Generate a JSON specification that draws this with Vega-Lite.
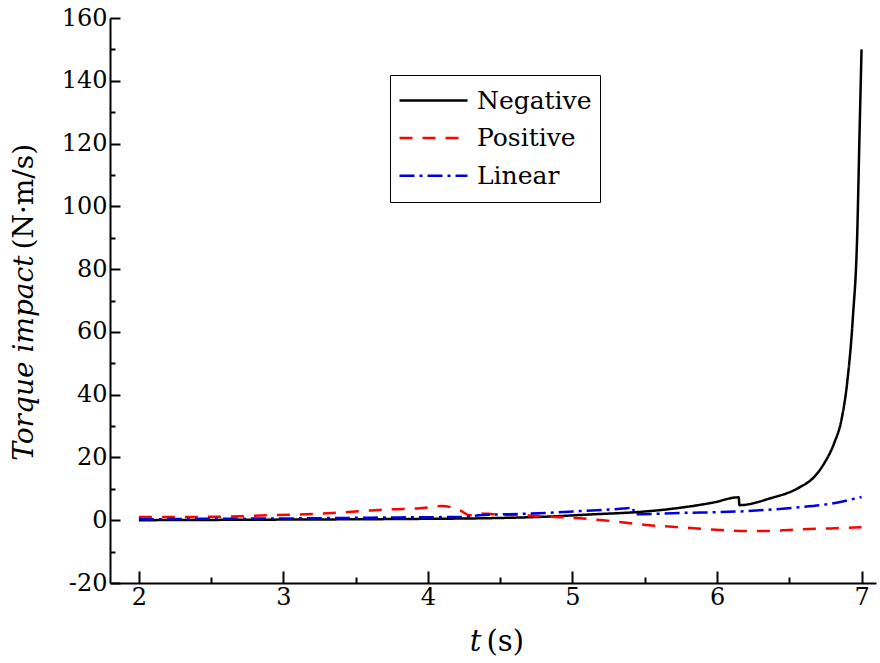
{
  "$schema": "https://vega.github.io/schema/vega-lite/v6.json",
  "width": 766,
  "height": 565,
  "autosize": {"type": "none"},
  "padding": {"left": 110, "top": 18, "right": 4, "bottom": 80},
  "background": "white",
  "config": {
    "view": {"stroke": null},
    "font": "DejaVu Serif",
    "axis": {
      "domainColor": "black",
      "domainWidth": 2,
      "tickColor": "black",
      "tickWidth": 2,
      "labelColor": "black",
      "labelFont": "DejaVu Serif",
      "labelFontSize": 24,
      "titleFont": "DejaVu Serif",
      "titleFontSize": 28,
      "titleFontWeight": "normal",
      "titleColor": "black",
      "grid": false
    },
    "legend": {"labelFont": "DejaVu Serif"}
  },
  "data": {
    "values": [
      {"series": "Negative", "t": 2.0, "v": 0.0},
      {"series": "Negative", "t": 2.2, "v": 0.05},
      {"series": "Negative", "t": 2.5, "v": 0.1},
      {"series": "Negative", "t": 3.0, "v": 0.2},
      {"series": "Negative", "t": 3.5, "v": 0.3},
      {"series": "Negative", "t": 4.0, "v": 0.45},
      {"series": "Negative", "t": 4.35, "v": 0.6},
      {"series": "Negative", "t": 4.8, "v": 1.1},
      {"series": "Negative", "t": 5.15, "v": 1.9},
      {"series": "Negative", "t": 5.45, "v": 2.6},
      {"series": "Negative", "t": 5.7, "v": 3.7},
      {"series": "Negative", "t": 5.97, "v": 5.6},
      {"series": "Negative", "t": 6.15, "v": 7.3},
      {"series": "Negative", "t": 6.155, "v": 4.8},
      {"series": "Negative", "t": 6.37, "v": 7.0},
      {"series": "Negative", "t": 6.56, "v": 10.2},
      {"series": "Negative", "t": 6.67, "v": 13.7},
      {"series": "Negative", "t": 6.74, "v": 18.0},
      {"series": "Negative", "t": 6.81, "v": 24.5},
      {"series": "Negative", "t": 6.86, "v": 31.8},
      {"series": "Negative", "t": 6.9, "v": 43.6},
      {"series": "Negative", "t": 6.94, "v": 64.6},
      {"series": "Negative", "t": 6.97, "v": 91.0},
      {"series": "Negative", "t": 6.986, "v": 123.0},
      {"series": "Negative", "t": 7.0, "v": 150.0},
      {"series": "Positive", "t": 2.0, "v": 1.0},
      {"series": "Positive", "t": 2.56, "v": 1.1},
      {"series": "Positive", "t": 2.77, "v": 1.4},
      {"series": "Positive", "t": 3.34, "v": 2.3},
      {"series": "Positive", "t": 3.57, "v": 3.0},
      {"series": "Positive", "t": 3.75, "v": 3.5},
      {"series": "Positive", "t": 3.94, "v": 3.8},
      {"series": "Positive", "t": 4.1, "v": 4.5},
      {"series": "Positive", "t": 4.22, "v": 3.2},
      {"series": "Positive", "t": 4.29, "v": 1.6},
      {"series": "Positive", "t": 4.35, "v": 2.2},
      {"series": "Positive", "t": 4.45, "v": 1.9},
      {"series": "Positive", "t": 4.7, "v": 1.5},
      {"series": "Positive", "t": 4.86, "v": 1.1},
      {"series": "Positive", "t": 5.05, "v": 0.6},
      {"series": "Positive", "t": 5.21, "v": 0.0},
      {"series": "Positive", "t": 5.37, "v": -0.8},
      {"series": "Positive", "t": 5.53, "v": -1.6},
      {"series": "Positive", "t": 5.69, "v": -2.1},
      {"series": "Positive", "t": 5.86, "v": -2.6},
      {"series": "Positive", "t": 6.02, "v": -3.1},
      {"series": "Positive", "t": 6.2, "v": -3.4},
      {"series": "Positive", "t": 6.37, "v": -3.4},
      {"series": "Positive", "t": 6.58, "v": -2.9},
      {"series": "Positive", "t": 6.79, "v": -2.6},
      {"series": "Positive", "t": 7.0, "v": -2.2},
      {"series": "Linear", "t": 2.0, "v": 0.3},
      {"series": "Linear", "t": 2.5, "v": 0.45},
      {"series": "Linear", "t": 3.12, "v": 0.6},
      {"series": "Linear", "t": 3.8, "v": 0.9},
      {"series": "Linear", "t": 4.29, "v": 1.1},
      {"series": "Linear", "t": 4.35, "v": 1.6},
      {"series": "Linear", "t": 4.7, "v": 2.1},
      {"series": "Linear", "t": 5.05, "v": 2.9},
      {"series": "Linear", "t": 5.35, "v": 3.7},
      {"series": "Linear", "t": 5.42, "v": 4.0},
      {"series": "Linear", "t": 5.425, "v": 1.9},
      {"series": "Linear", "t": 5.74, "v": 2.3},
      {"series": "Linear", "t": 6.2, "v": 2.9},
      {"series": "Linear", "t": 6.56, "v": 4.1},
      {"series": "Linear", "t": 6.79, "v": 5.3},
      {"series": "Linear", "t": 7.0, "v": 7.4}
    ]
  },
  "resolve": {"axis": {"x": "independent", "y": "independent"}},
  "layer": [
    {
      "mark": {"type": "line", "strokeWidth": 2.5, "interpolate": "monotone"},
      "encoding": {
        "x": {
          "field": "t", "type": "quantitative",
          "scale": {"domain": [1.8, 7.1], "nice": false, "zero": false},
          "axis": {
            "orient": "bottom",
            "values": [2, 3, 4, 5, 6, 7],
            "tickSize": -12,
            "labelPadding": 14,
            "labelExpr": "'' + datum.value",
            "title": "t",
            "titleFontSize": 29,
            "titleFontStyle": "italic",
            "titleAlign": "right",
            "titleBaseline": "alphabetic",
            "titleX": 371,
            "titleY": 67
          }
        },
        "y": {
          "field": "v", "type": "quantitative",
          "scale": {"domain": [-20, 160], "nice": false, "zero": false},
          "axis": {
            "orient": "left",
            "values": [-20, 0, 20, 40, 60, 80, 100, 120, 140, 160],
            "tickSize": -10,
            "labelPadding": 13,
            "labelExpr": "'' + datum.value",
            "title": "Torque impact",
            "titleFontStyle": "italic",
            "titleAngle": -90,
            "titleAlign": "right",
            "titleBaseline": "alphabetic",
            "titleX": -78,
            "titleY": 237
          }
        },
        "color": {
          "field": "series", "type": "nominal",
          "scale": {"domain": ["Negative", "Positive", "Linear"], "range": ["#000000", "#ff0000", "#0000e0"]},
          "legend": {
            "title": null,
            "orient": "none",
            "legendX": 280,
            "legendY": 57,
            "strokeColor": "black",
            "fillColor": "white",
            "padding": 8,
            "clipHeight": 35,
            "rowPadding": 2.6,
            "labelFontSize": 25,
            "labelColor": "black",
            "labelOffset": 8,
            "symbolType": "stroke",
            "symbolSize": 4624,
            "symbolStrokeWidth": 2.5
          }
        },
        "strokeDash": {
          "field": "series", "type": "nominal",
          "scale": {"domain": ["Negative", "Positive", "Linear"], "range": [[1, 0], [13, 10], [15, 5, 3, 5]]},
          "legend": {
            "title": null,
            "orient": "none",
            "legendX": 280,
            "legendY": 57,
            "strokeColor": "black",
            "fillColor": "white",
            "padding": 8,
            "clipHeight": 35,
            "rowPadding": 2.6,
            "labelFontSize": 25,
            "labelColor": "black",
            "labelOffset": 8,
            "symbolType": "stroke",
            "symbolSize": 4624,
            "symbolStrokeWidth": 2.5
          }
        }
      }
    },
    {
      "mark": {"type": "line", "strokeOpacity": 0},
      "encoding": {
        "detail": {"field": "series", "type": "nominal"},
        "x": {
          "field": "t", "type": "quantitative",
          "axis": {
            "orient": "bottom",
            "values": [2.5, 3.5, 4.5, 5.5, 6.5],
            "tickSize": -6,
            "labels": false,
            "domain": false,
            "title": "(s)",
            "titleFontSize": 29,
            "titleFontStyle": "normal",
            "titleAlign": "left",
            "titleBaseline": "alphabetic",
            "titleX": 376,
            "titleY": 67
          }
        },
        "y": {
          "field": "v", "type": "quantitative",
          "axis": {
            "orient": "left",
            "values": [-10, 10, 30, 50, 70, 90, 110, 130, 150],
            "tickSize": -5,
            "labels": false,
            "domain": false,
            "title": "(N·m/s)",
            "titleFontStyle": "normal",
            "titleAngle": -90,
            "titleAlign": "left",
            "titleBaseline": "alphabetic",
            "titleX": -78,
            "titleY": 231
          }
        }
      }
    }
  ]
}
